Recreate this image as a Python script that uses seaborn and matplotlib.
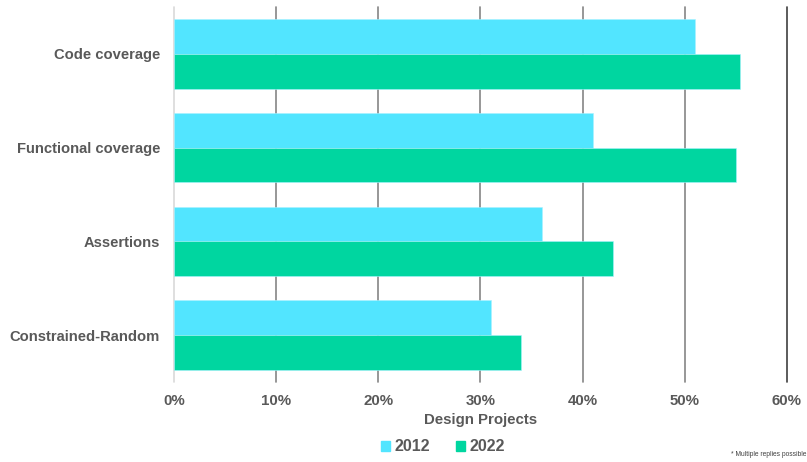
import matplotlib
matplotlib.use("Agg")
import matplotlib.pyplot as plt
import matplotlib.ticker as mticker
import seaborn as sns
import pandas as pd

# Verification techniques used on design projects (share of projects, %)
techniques = ["Code coverage", "Functional coverage", "Assertions", "Constrained-Random"]
years = ["2012", "2022"]
share_2012 = [51, 41, 36, 31]
share_2022 = [55.4, 55, 43, 34]
x_ticks = [0, 10, 20, 30, 40, 50, 60]

df = pd.DataFrame({
    "technique": techniques * 2,
    "year": [years[0]] * len(techniques) + [years[1]] * len(techniques),
    "share": share_2012 + share_2022,
})

sns.set_theme(style="white")
plt.rcParams["font.family"] = ["Liberation Sans", "DejaVu Sans"]

text_grey = "#595959"
palette = {"2012": "#52E5FF", "2022": "#00D6A0"}

fig = plt.figure(figsize=(8.07, 4.62), dpi=100)
ax = fig.add_axes([0.2156, 0.1732, 0.7596, 0.8116])

sns.barplot(data=df, y="technique", x="share", hue="year", order=techniques,
            hue_order=years, palette=palette, orient="h", width=0.74, gap=0,
            saturation=1, edgecolor="#A8F2FF", linewidth=0.4, ax=ax, zorder=3,
            legend=True)

ax.set_xlim(0, 60)
ax.set_xticks(x_ticks)
ax.xaxis.set_major_formatter(mticker.FuncFormatter(lambda v, p: f"{int(v)}%"))

# vertical gridlines
for v in x_ticks:
    if v == 0:
        col = "#D9D9D9"
    elif v == 60:
        col = "#404040"
    else:
        col = "#858585"
    ax.axvline(v, color=col, linewidth=1.2, zorder=1, clip_on=False)

for s in ax.spines.values():
    s.set_visible(False)

ax.tick_params(axis="both", length=0)
ax.tick_params(axis="x", pad=9, labelsize=10.8, labelcolor=text_grey)
ax.tick_params(axis="y", pad=10, labelsize=10.6, labelcolor=text_grey)
for lab in ax.get_xticklabels() + ax.get_yticklabels():
    lab.set_fontweight("bold")

ax.set_ylabel("")
ax.set_xlabel("Design Projects", fontsize=10.8, fontweight="bold",
              color=text_grey, labelpad=3)

ax.get_legend().remove()
handles = [plt.Rectangle((0, 0), 1, 1, color=palette[y]) for y in years]
leg = fig.legend(handles, years, loc="center", bbox_to_anchor=(0.549, 0.0325),
                 ncol=2, frameon=False, handlelength=0.55, handleheight=0.55,
                 handletextpad=0.3, columnspacing=1.6,
                 prop={"weight": "bold", "size": 11.5})
for t in leg.get_texts():
    t.set_color(text_grey)

fig.text(0.999, 0.016, "* Multiple replies possible", fontsize=4.8,
         color="#404040", va="center", ha="right")

fig.savefig("out.png", dpi=100)
